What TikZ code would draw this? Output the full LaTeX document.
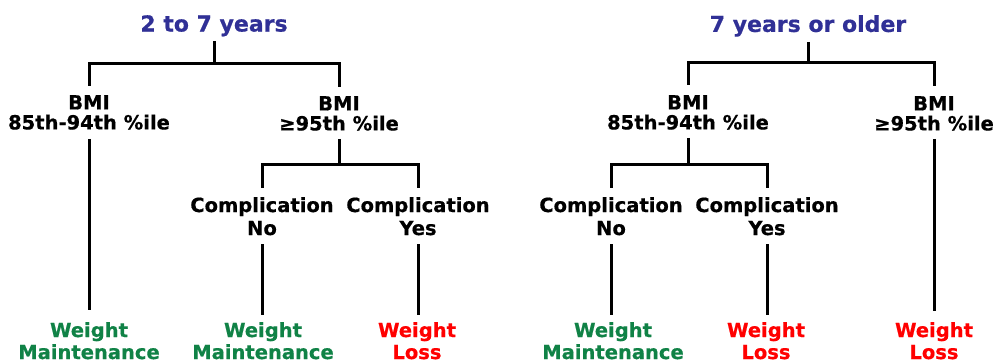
\documentclass[tikz,border=0pt]{standalone}
\usepackage{fontspec}
\newfontfamily\vf{DejaVu Sans}[BoldFeatures={FakeBold=0.6}]
\definecolor{ttlblue}{RGB}{48,48,150}
\definecolor{wgreen}{RGB}{16,130,70}
\definecolor{wred}{RGB}{255,0,0}
\tikzset{
  link/.style={line width=3pt, black},
  ttl/.style={anchor=north, inner sep=0pt, text=ttlblue, font=\vf\bfseries\fontsize{22}{26}\selectfont},
  bmi/.style={anchor=north, inner sep=0pt, align=center, font=\vf\bfseries\fontsize{19.5}{20}\selectfont},
  comp/.style={anchor=north, inner sep=0pt, align=center, font=\vf\bfseries\fontsize{19.5}{23}\selectfont},
  res/.style={anchor=north, inner sep=0pt, align=center, font=\vf\bfseries\fontsize{19.5}{22}\selectfont},
  good/.style={res, text=wgreen},
  bad/.style={res, text=wred}
}
\begin{document}
\begin{tikzpicture}[x=1pt, y=-1pt]
\useasboundingbox[fill=white] (0,0) rectangle (1001,362);
% left tree
\node[ttl] (T1) at (214,15) {2 to 7 years};
\node[bmi] (B1) at (89,95) {BMI\\85th-94th \%ile};
\node[bmi] (B2) at (339,96) {BMI\\≥95th \%ile};
\node[comp] (C1) at (262,197) {Complication\\No};
\node[comp] (C2) at (418,197) {Complication\\Yes};
\node[good] (W1) at (89,322) {Weight\\Maintenance};
\node[good] (W2) at (263,322) {Weight\\Maintenance};
\node[bad] (W3) at (417,322) {Weight\\Loss};
% right tree
\node[ttl] (T2) at (808,15) {7 years or older};
\node[bmi] (B3) at (688,95) {BMI\\85th-94th \%ile};
\node[bmi] (B4) at (934,96) {BMI\\≥95th \%ile};
\node[comp] (C3) at (611,197) {Complication\\No};
\node[comp] (C4) at (767,197) {Complication\\Yes};
\node[good] (W4) at (613,322) {Weight\\Maintenance};
\node[bad] (W5) at (766,322) {Weight\\Loss};
\node[bad] (W6) at (934,322) {Weight\\Loss};
% connectors left
\coordinate (J1) at (T1.south |- 0,63);
\draw[link] ([yshift=-5pt]T1.south) -- (J1);
\draw[link] (J1) -| ([yshift=9pt]B1.north);
\draw[link] (J1) -| ([yshift=9pt]B2.north);
\draw[link] ([yshift=-9pt]B1.south) -- ([yshift=12pt]B1.south |- W1.north);
\coordinate (J2) at (B2.south |- 0,164);
\draw[link] ([yshift=-8pt]B2.south) -- (J2);
\draw[link] (J2) -| ([yshift=9pt]C1.north);
\draw[link] (J2) -| ([yshift=9pt]C2.north);
\draw[link] ([yshift=-9pt]C1.south) -- ([yshift=7pt]C1.south |- W2.north);
\draw[link] ([yshift=-9pt]C2.south) -- ([yshift=7pt]C2.south |- W3.north);
% connectors right
\coordinate (J3) at (T2.south |- 0,62);
\draw[link] ([yshift=-5pt]T2.south) -- (J3);
\draw[link] (J3) -| ([yshift=10pt]B3.north);
\draw[link] (J3) -| ([yshift=10pt]B4.north);
\coordinate (J4) at (B3.south |- 0,164);
\draw[link] ([yshift=-8pt]B3.south) -- (J4);
\draw[link] (J4) -| ([yshift=9pt]C3.north);
\draw[link] (J4) -| ([yshift=9pt]C4.north);
\draw[link] ([yshift=-8pt]B4.south) -- ([yshift=11pt]B4.south |- W6.north);
\draw[link] ([yshift=-9pt]C3.south) -- ([yshift=7pt]C3.south |- W4.north);
\draw[link] ([yshift=-9pt]C4.south) -- ([yshift=7pt]C4.south |- W5.north);
\end{tikzpicture}
\end{document}
